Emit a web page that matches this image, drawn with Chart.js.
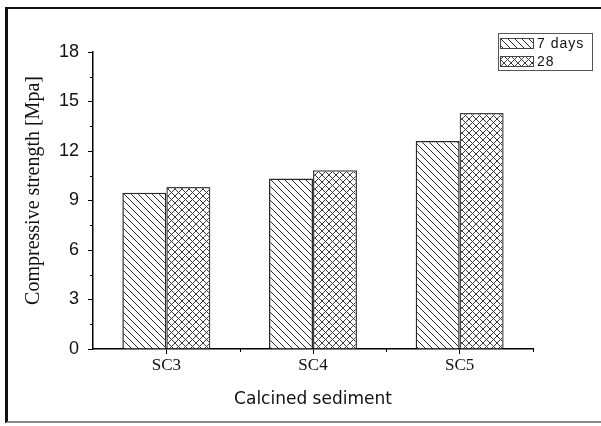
<!DOCTYPE html>
<html lang="en">
<head>
    <meta charset="UTF-8">
    <title>Compressive strength - calcined sediment</title>
    <script src="https://cdn.jsdelivr.net/npm/chart.js"></script>
    <style>
        html, body {
            margin: 0;
            padding: 0;
            background: #fff;
            overflow: hidden;
        }
        .frame {
            position: absolute;
            left: 5px;
            top: 7px;
            width: 700px;
            height: 412px;
            border-left: 3px solid #111;
            border-top: 2px solid #111;
            border-bottom: 2px solid #8a8a8a;
        }
        #chart {
            position: absolute;
            left: 0;
            top: 0;
        }
    </style>
</head>
<body>
    <div class="frame"></div>
    <canvas id="chart" width="601" height="426"></canvas>

    <script>
        // data
        const categories = ["SC3", "SC4", "SC5"];
        const days7 = [9.47, 10.33, 12.6];
        const days28 = [9.82, 10.84, 14.3];
        const seriesLabels = ["7 days", "28"];

        // hatch fills
        function hatch(cross) {
            const s = 7;
            const c = document.createElement("canvas");
            c.width = s; c.height = s;
            const g = c.getContext("2d");
            g.fillStyle = "#fff";
            g.fillRect(0, 0, s, s);
            g.strokeStyle = cross ? "#3a3a3a" : "#2a2a2a";
            g.lineWidth = 1;
            for (const k of [-s, 0, s]) {
                g.beginPath();
                g.moveTo(k, 0);
                g.lineTo(k + s, s);
                g.stroke();
                if (cross) {
                    g.beginPath();
                    g.moveTo(k + s, 0);
                    g.lineTo(k, s);
                    g.stroke();
                }
            }
            return g.createPattern(c, "repeat");
        }

        const ctx = document.getElementById("chart").getContext("2d");
        const diag = hatch(false);
        const cross = hatch(true);

        // minor ticks + boxed legend like the original
        const extras = {
            id: "extras",
            afterDraw(chart) {
                const g = chart.ctx;
                const x = chart.scales.x, y = chart.scales.y;
                g.save();
                g.strokeStyle = "#000";
                g.lineWidth = 1;
                // minor y ticks
                for (let v = 1.5; v < 18; v += 3) {
                    const py = Math.round(y.getPixelForValue(v)) + 0.5;
                    g.beginPath();
                    g.moveTo(x.left - 3, py);
                    g.lineTo(x.left, py);
                    g.stroke();
                }
                // minor x ticks between groups
                for (let i = 0; i < categories.length; i++) {
                    const px = Math.round(x.getPixelForValue(i + 0.5)) + 0.5;
                    g.beginPath();
                    g.moveTo(px, y.bottom);
                    g.lineTo(px, y.bottom + 3);
                    g.stroke();
                }

                // legend
                const bx = 498, by = 33, bw = 94, bh = 37;
                g.strokeStyle = "#555";
                g.strokeRect(bx + 0.5, by + 0.5, bw, bh);
                g.font = "14px 'Liberation Sans', Arial, sans-serif";
                g.letterSpacing = "1px";
                g.textBaseline = "middle";
                g.fillStyle = "#111";
                chart.data.datasets.forEach((ds, i) => {
                    const sy = by + 5 + i * 18;
                    g.fillStyle = ds.backgroundColor;
                    g.fillRect(bx + 2, sy, 33, 11);
                    g.strokeStyle = "#444";
                    g.strokeRect(bx + 2.5, sy + 0.5, 33, 10);
                    g.fillStyle = "#111";
                    g.fillText(ds.label, bx + 39, sy + 6);
                });
                g.restore();
            }
        };

        new Chart(ctx, {
            type: "bar",
            data: {
                labels: categories,
                datasets: [
                    {
                        label: seriesLabels[0],
                        data: days7,
                        backgroundColor: diag,
                        borderColor: "#2a2a2a",
                        borderWidth: 1.5,
                    },
                    {
                        label: seriesLabels[1],
                        data: days28,
                        backgroundColor: cross,
                        borderColor: "#444",
                        borderWidth: 1.5,
                    },
                ],
            },
            options: {
                responsive: false,
                animation: false,
                layout: {
                    padding: { left: 5, right: 68, top: 52, bottom: 7 },
                },
                datasets: {
                    bar: { categoryPercentage: 0.6, barPercentage: 1.0 },
                },
                plugins: {
                    legend: { display: false },
                    tooltip: { enabled: false },
                },
                scales: {
                    x: {
                        offset: true,
                        afterFit(scale) { scale.height = 70; },
                        grid: {
                            offset: false,
                            drawOnChartArea: false,
                            tickLength: 5,
                            color: "#000",
                        },
                        border: { color: "#000", width: 1.5 },
                        ticks: {
                            padding: 1,
                            color: "#111",
                            font: { family: "'Liberation Serif', 'Times New Roman', serif", size: 17 },
                        },
                        title: {
                            display: true,
                            text: "Calcined sediment",
                            color: "#111",
                            font: { family: "'DejaVu Sans', sans-serif", size: 17 },
                            padding: { top: 0, bottom: 9 },
                        },
                    },
                    y: {
                        min: 0,
                        max: 18,
                        afterFit(scale) { scale.width = 88; },
                        grid: {
                            drawOnChartArea: false,
                            tickLength: 5,
                            color: "#000",
                        },
                        border: { color: "#000", width: 1.5 },
                        ticks: {
                            stepSize: 3,
                            padding: 9,
                            color: "#111",
                            font: { family: "'Liberation Sans', Arial, sans-serif", size: 18 },
                        },
                        title: {
                            display: true,
                            text: "    Compressive strength [Mpa]",
                            color: "#111",
                            font: { family: "'Liberation Serif', 'Times New Roman', serif", size: 20 },
                            padding: { top: 17, bottom: 0 },
                        },
                    },
                },
            },
            plugins: [extras],
        });
    </script>
</body>
</html>
